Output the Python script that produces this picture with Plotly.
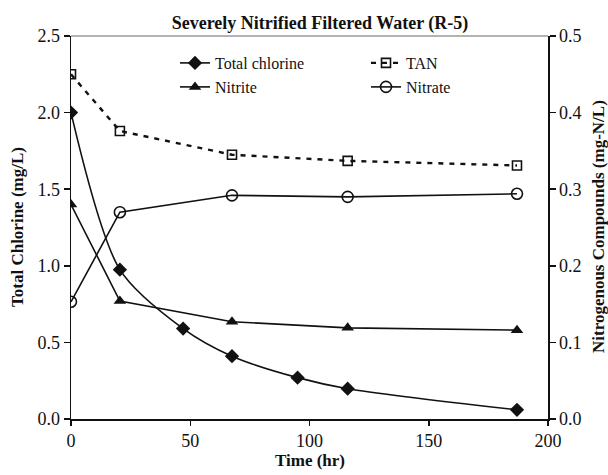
import plotly.graph_objects as go

# Data
time_cl = [0, 20.5, 47, 67.5, 95, 116, 187]
total_chlorine = [2.0, 0.975, 0.59, 0.41, 0.27, 0.198, 0.06]

time_n = [0, 20.5, 67.5, 116, 187]
tan = [0.450, 0.376, 0.345, 0.337, 0.331]
nitrite = [0.280, 0.154, 0.127, 0.119, 0.116]
nitrate = [0.153, 0.270, 0.292, 0.290, 0.294]

x_ticks = [0, 50, 100, 150, 200]
y_left_ticks = [0.0, 0.5, 1.0, 1.5, 2.0, 2.5]
y_right_ticks = [0.0, 0.1, 0.2, 0.3, 0.4, 0.5]

FONT = "Liberation Serif"
BLACK = "#111111"

fig = go.Figure()

fig.add_trace(go.Scatter(
    x=time_cl, y=total_chlorine, name="Total chlorine", mode="lines+markers",
    line=dict(color=BLACK, width=1.6, shape="spline", smoothing=0.8),
    marker=dict(symbol="diamond", size=11, color=BLACK),
    legend="legend", showlegend=True))
fig.add_trace(go.Scatter(
    x=time_n, y=tan, name="TAN", mode="lines+markers", yaxis="y2",
    line=dict(color=BLACK, width=2.4, dash="5px,6px"),
    marker=dict(symbol="square-open", size=9, color=BLACK, line=dict(width=1.6)),
    legend="legend2", showlegend=True))
fig.add_trace(go.Scatter(
    x=time_n, y=nitrite, name="Nitrite", mode="lines+markers", yaxis="y2",
    line=dict(color=BLACK, width=1.6),
    marker=dict(symbol="triangle-up", size=11, color=BLACK),
    legend="legend3", showlegend=True))
fig.add_trace(go.Scatter(
    x=time_n, y=nitrate, name="Nitrate", mode="lines+markers", yaxis="y2",
    line=dict(color=BLACK, width=1.6),
    marker=dict(symbol="circle-open", size=11, color=BLACK, line=dict(width=1.6)),
    legend="legend4", showlegend=True))

L, R, T, B = 71, 60, 36, 56
W, H = 608, 475
pw, ph = W - L - R, H - T - B

def px_x(p):
    return (p - L) / pw

def px_y(p):
    return (H - B - p) / ph

leg_font = dict(family=FONT, size=16, color=BLACK)
common = dict(bgcolor="rgba(0,0,0,0)", font=leg_font, xanchor="left", yanchor="middle",
              itemwidth=30)

tick_font = dict(family=FONT, size=18, color=BLACK)
title_font = dict(family=FONT, size=17, color=BLACK)

fig.update_layout(
    width=W, height=H,
    margin=dict(l=L, r=R, t=T, b=B),
    plot_bgcolor="white", paper_bgcolor="white",
    font=dict(family=FONT, size=16, color=BLACK),
    showlegend=True,
    hovermode=False,
    title=dict(text="<b>Severely Nitrified Filtered Water (R-5)</b>",
               x=px_x(320), xref="paper", xanchor="center",
               y=1 - 23 / H, yanchor="middle",
               font=dict(family=FONT, size=18, color=BLACK)),
    xaxis=dict(range=[0, 200], tickvals=x_ticks, ticks="outside", ticklen=5,
               tickwidth=1.5, tickcolor=BLACK, showline=True, linecolor=BLACK, linewidth=1.5,
               showgrid=False, zeroline=False, tickfont=tick_font),
    yaxis=dict(range=[0, 2.5], tickvals=y_left_ticks, tickformat=".1f", ticks="outside",
               ticklen=6, tickwidth=1.5, tickcolor=BLACK, showline=True, linecolor=BLACK,
               linewidth=1.5, showgrid=False, zeroline=False, tickfont=tick_font),
    yaxis2=dict(range=[0, 0.5], tickvals=y_right_ticks, tickformat=".1f", ticks="outside",
                ticklen=6, tickwidth=1.5, tickcolor=BLACK, showline=True, linecolor=BLACK,
                linewidth=1.5, showgrid=False, zeroline=False, overlaying="y", side="right",
                tickfont=tick_font),
    legend=dict(x=px_x(175), y=px_y(63), **common),
    legend2=dict(x=px_x(366), y=px_y(63), **common),
    legend3=dict(x=px_x(175), y=px_y(87), **common),
    legend4=dict(x=px_x(366), y=px_y(87), **common),
    shapes=[dict(type="line", xref="paper", yref="paper", x0=0, x1=1, y0=1, y1=1,
                 line=dict(color="#9a9a9a", width=1.5))],
    annotations=[
        dict(text="<b>Time (hr)</b>", xref="paper", yref="paper",
             x=px_x(310), y=px_y(460), xanchor="center", yanchor="middle",
             showarrow=False, font=title_font),
        dict(text="<b>Total Chlorine (mg/L)</b>", xref="paper", yref="paper",
             x=px_x(17), y=px_y(227), xanchor="center", yanchor="middle",
             textangle=-90, showarrow=False, font=title_font),
        dict(text="<b>Nitrogenous Compounds (mg-N/L)</b>", xref="paper", yref="paper",
             x=px_x(598), y=px_y(227), xanchor="center", yanchor="middle",
             textangle=-90, showarrow=False, font=title_font),
    ],
)

fig.write_html("out.html", config={"displayModeBar": False, "staticPlot": True},
               post_script="document.body.style.margin='0';")
